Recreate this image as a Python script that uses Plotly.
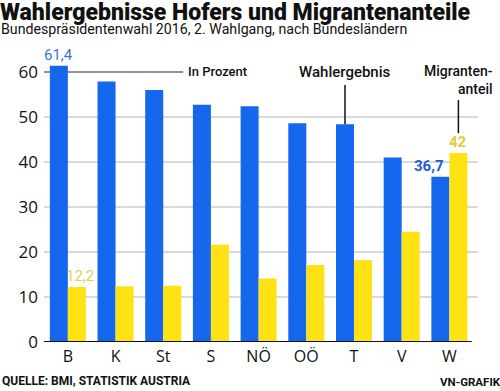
import plotly.graph_objects as go

categories = ["B", "K", "St", "S", "NÖ", "OÖ", "T", "V", "W"]
wahlergebnis = [61.4, 57.9, 56.0, 52.7, 52.4, 48.6, 48.4, 41.0, 36.7]
migrantenanteil = [12.2, 12.4, 12.5, 21.6, 14.1, 17.1, 18.2, 24.5, 42.0]
y_ticks = [0, 10, 20, 30, 40, 50, 60]

BLUE = "#1567ee"
YELLOW = "#ffe214"
NARROW = "Roboto"
TICKFONT = "Open Sans"

W, H = 500, 391
ML, MR, MT, MB = 44, 22, 45, 49
PW, PH = W - ML - MR, H - MT - MB
PX_LEFT = -ML / PW
PX_RIGHT = 1 + MR / PW
PY_TOP = 1 + MT / PH
PY_BOTTOM = -MB / PH

fig = go.Figure()
fig.add_trace(go.Bar(x=list(range(len(categories))), y=wahlergebnis,
                     marker=dict(color=BLUE, line=dict(width=0)), name="Wahlergebnis"))
fig.add_trace(go.Bar(x=list(range(len(categories))), y=migrantenanteil,
                     marker=dict(color=YELLOW, line=dict(width=0)), name="Migrantenanteil"))

bargap = 0.245
half = (1 - bargap) / 4  # offset of each bar center from category center

shapes = []
for v in y_ticks[1:-1]:
    shapes.append(dict(type="line", xref="paper", yref="y", x0=0, x1=1, y0=v, y1=v,
                       line=dict(color="#b4b4b4", width=1.2), layer="below"))
shapes.append(dict(type="line", xref="x", yref="y", x0=-0.53, x1=2.42,
                   y0=y_ticks[-1], y1=y_ticks[-1], line=dict(color="#707070", width=1.5), layer="below"))
shapes.append(dict(type="line", xref="x", yref="y", x0=-0.5, x1=8.47, y0=0, y1=0,
                   line=dict(color="#111111", width=2.2), layer="above"))
iT = categories.index("T")
shapes.append(dict(type="line", xref="x", yref="y", x0=iT - half, x1=iT - half,
                   y0=wahlergebnis[iT], y1=57.1, line=dict(color="#111111", width=1.5)))
iW = categories.index("W")
shapes.append(dict(type="line", xref="x", yref="y", x0=iW + half, x1=iW + half,
                   y0=migrantenanteil[iW] + 4.4, y1=migrantenanteil[iW] + 11.8,
                   line=dict(color="#111111", width=1.5)))

annotations = [
    dict(text="Wahlergebnisse Hofers und Migrantenanteile", xref="paper", yref="paper",
         x=PX_LEFT, y=PY_TOP, xanchor="left", yanchor="top", yshift=3, xshift=-2, showarrow=False,
         font=dict(family="Roboto", size=23, weight=900, color="#111111")),
    dict(text="Bundespräsidentenwahl 2016, 2. Wahlgang, nach Bundesländern", xref="paper", yref="paper",
         x=PX_LEFT, y=PY_TOP, xanchor="left", yanchor="top", yshift=-19, xshift=-1, showarrow=False,
         font=dict(family=NARROW, size=14.2, color="#111111")),
    dict(text="<b>QUELLE: BMI, STATISTIK AUSTRIA</b>", xref="paper", yref="paper",
         x=PX_LEFT, y=PY_BOTTOM, xanchor="left", yanchor="bottom", yshift=1, xshift=0, showarrow=False,
         font=dict(family=NARROW, size=12, color="#111111")),
    dict(text="<b>VN-GRAFIK</b>", xref="paper", yref="paper",
         x=PX_RIGHT, y=PY_BOTTOM, xanchor="right", yanchor="bottom", yshift=0, xshift=3, showarrow=False,
         font=dict(family=NARROW, size=11.5, color="#111111")),
    dict(text="In Prozent", xref="x", yref="y", x=2.48, y=60.2, xanchor="left", yanchor="middle",
         showarrow=False, font=dict(family=NARROW, size=13, weight=500, color="#111111")),
    dict(text="Wahlergebnis", xref="x", yref="y", x=iT - half, y=57.6, xanchor="center", yanchor="bottom",
         showarrow=False, font=dict(family=NARROW, size=15, weight=500, color="#111111")),
    dict(text="Migranten-<br>anteil", xref="x", yref="y", x=iW + half, y=54.0, xanchor="center",
         yanchor="bottom", showarrow=False, align="right",
         font=dict(family=NARROW, size=14, weight=500, color="#111111")),
    dict(text="61,4", xref="x", yref="y", x=0 - half, y=wahlergebnis[0], xanchor="center",
         yanchor="bottom", showarrow=False, font=dict(family=NARROW, size=15, color="#3c78cc")),
    dict(text="12,2", xref="x", yref="y", x=0 + half, y=migrantenanteil[0], xanchor="center",
         yanchor="bottom", xshift=3, showarrow=False, font=dict(family=NARROW, size=15, color="#e2d150")),
    dict(text="<b>36,7</b>", xref="x", yref="y", x=iW, y=wahlergebnis[iW], xanchor="right",
         yanchor="bottom", xshift=-3, showarrow=False, font=dict(family=NARROW, size=15, color="#1d60d0")),
    dict(text="<b>42</b>", xref="x", yref="y", x=iW + half, y=migrantenanteil[iW], xanchor="center",
         yanchor="bottom", showarrow=False, font=dict(family=NARROW, size=15, color="#dfcc3c")),
]

fig.update_layout(
    width=W, height=H,
    margin=dict(l=ML, r=MR, t=MT, b=MB, pad=0),
    paper_bgcolor="white", plot_bgcolor="white",
    barmode="group", bargap=bargap, bargroupgap=0,
    showlegend=False,
    shapes=shapes, annotations=annotations,
    xaxis=dict(range=[-0.5, 8.6], tickmode="array", tickvals=list(range(len(categories))),
               ticktext=categories, showgrid=False, zeroline=False, showline=False, ticks="",
               ticklabelstandoff=3,
               tickfont=dict(family=TICKFONT, size=16, color="#111111")),
    yaxis=dict(range=[0, 66], tickmode="array", tickvals=y_ticks, ticktext=[str(v) for v in y_ticks],
               showgrid=False, zeroline=False, showline=False, ticks="", ticklabelstandoff=5,
               tickfont=dict(family=TICKFONT, size=17, color="#111111")),
)

fig.write_html("out.html", config={"displayModeBar": False},
               post_script="document.body.style.margin='0';document.body.style.overflow='hidden';")
